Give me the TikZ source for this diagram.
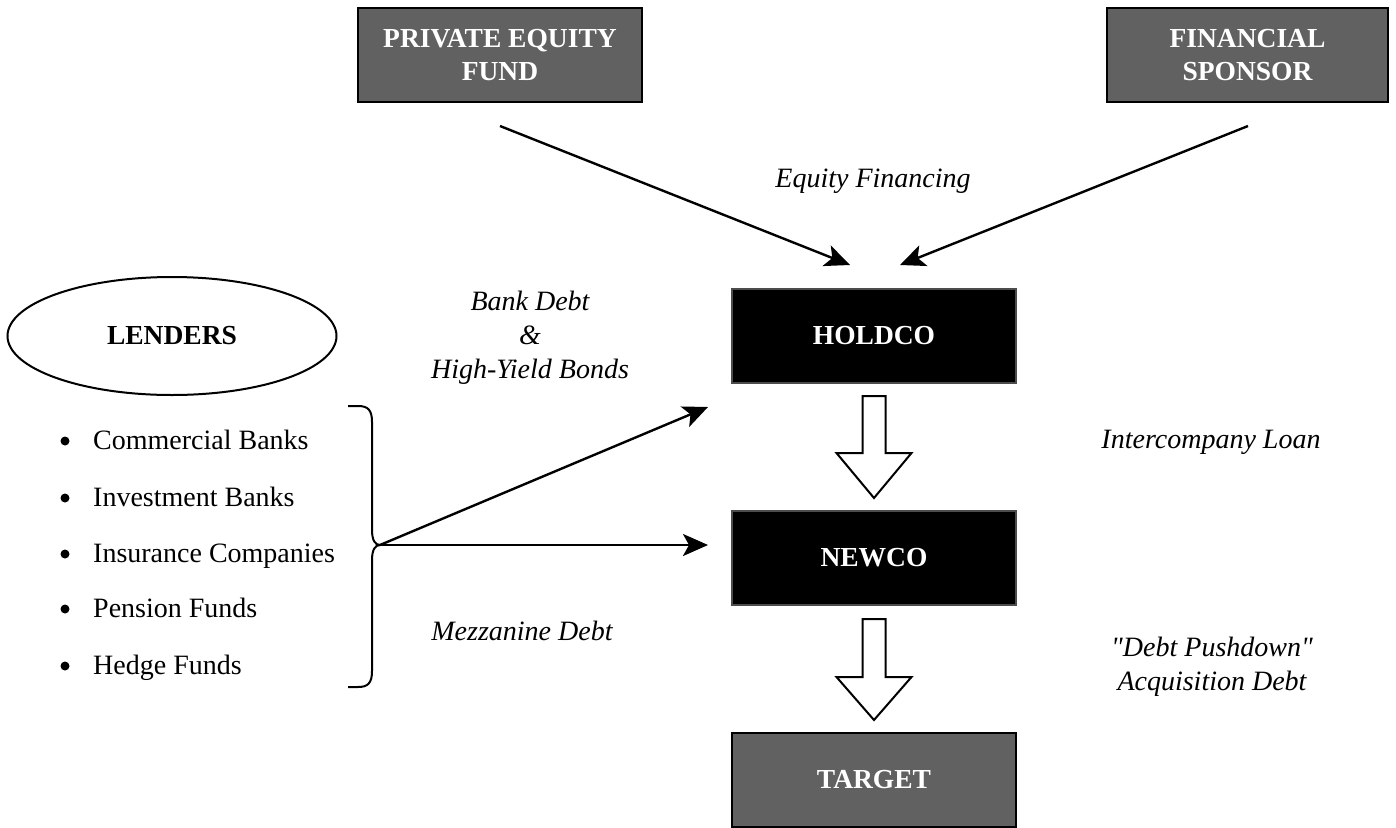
\documentclass[tikz,border=0pt]{standalone}
\usepackage{fontspec}
\setmainfont{Liberation Serif}[Ligatures=TeXOff]
\usetikzlibrary{arrows.meta,shapes.geometric,calc}
\definecolor{boxgrey}{HTML}{616161}
\begin{document}
\begin{tikzpicture}[x=1pt,y=-1pt,
  greybox/.style={draw=black, line width=2pt, fill=boxgrey, text=white,
    font=\fontsize{27.5}{33}\selectfont\bfseries, align=center,
    minimum width=284pt, minimum height=94pt, inner sep=0pt},
  blackbox/.style={greybox, fill=black, draw=black!70},
  flow/.style={line width=2.4pt, -{Stealth[length=25pt,width=22pt,inset=6pt]}},
  lbl/.style={font=\fontsize{28}{34}\selectfont\itshape, align=center, inner sep=0pt},
  entry/.style={font=\fontsize{28}{33}\selectfont, anchor=base west, inner sep=0pt},
  hollow/.style={draw=black, line width=2pt, fill=white, line join=miter}]

\useasboundingbox (0,0) rectangle (1396,827);

% sponsors
\node[greybox] (pe) at (500,55) {PRIVATE EQUITY\\FUND};
\node[greybox, minimum width=281pt] (fs) at (1247.5,55) {FINANCIAL\\SPONSOR};

% acquisition vehicles and target
\node[blackbox] (holdco) at (874,336) {HOLDCO};
\node[blackbox] (newco) at (874,558) {NEWCO};
\node[greybox] (target) at (874,780) {TARGET};

% lenders
\node[draw, ellipse, line width=2pt, minimum width=329pt, minimum height=118pt,
  font=\fontsize{27.5}{33}\selectfont\bfseries] (lenders) at (172,336) {LENDERS};

\foreach \y/\t in {440/Commercial Banks, 497/Investment Banks,
                   553/Insurance Companies, 608/Pension Funds, 665/Hedge Funds}{
  \fill (65,\y+1) circle (4.5pt);
  \node[entry] at (93,\y+9) {\t};
}

% brace gathering the lenders
\coordinate (bracetip) at (380,545);
\draw[line width=2pt, line join=round]
  (348,406) -- (358,406) .. controls (368,406) and (372,410) .. (372,422)
  -- (372,530) .. controls (372,540) and (375,545) .. (bracetip)
  .. controls (375,545) and (372,550) .. (372,560)
  -- (372,671) .. controls (372,683) and (368,687) .. (358,687) -- (348,687);

% equity financing
\coordinate (peout) at ($(pe.south)+(0,23)$);
\coordinate (fsout) at ($(fs.south)+(0.5,23)$);
\coordinate (holdinl) at ($(holdco.north)+(-24,-23)$);
\coordinate (holdinr) at ($(holdco.north)+(26,-23)$);
\draw[flow] (peout) -- (holdinl);
\draw[flow] (fsout) -- (holdinr);
\node[lbl] (eqlbl) at (873,181) {Equity Financing};

% debt financing
\coordinate (debthold) at ($(holdco.west)+(-23,71)$);
\coordinate (debtnew) at ($(newco.west)+(-23,-12)$);
\draw[flow] (bracetip) -- (debthold);
\draw[flow] (bracetip) -- (debtnew |- bracetip);
\node[lbl] (banklbl) at (530,338) {Bank Debt\\\&\\High-Yield Bonds};
\node[lbl] (mezzlbl) at (522,631) {Mezzanine Debt};

% downstream transfers
\draw[hollow] ($(holdco.south)+(-11.5,12)$) -- ($(holdco.south)+(11.5,12)$)
  -- ($(holdco.south)+(11.5,69)$) -- ($(holdco.south)+(37.5,69)$)
  -- ($(newco.north)+(0,-12)$) -- ($(holdco.south)+(-37.5,69)$)
  -- ($(holdco.south)+(-11.5,69)$) -- cycle;
\draw[hollow] ($(newco.south)+(-11.5,13)$) -- ($(newco.south)+(11.5,13)$)
  -- ($(newco.south)+(11.5,71)$) -- ($(newco.south)+(37.5,71)$)
  -- ($(target.north)+(0,-12)$) -- ($(newco.south)+(-37.5,71)$)
  -- ($(newco.south)+(-11.5,71)$) -- cycle;
\node[lbl] (iclbl) at (1211,442) {Intercompany Loan};
\node[lbl] (pushlbl) at (1212,667) {"Debt Pushdown"\\Acquisition Debt};
\end{tikzpicture}
\end{document}
